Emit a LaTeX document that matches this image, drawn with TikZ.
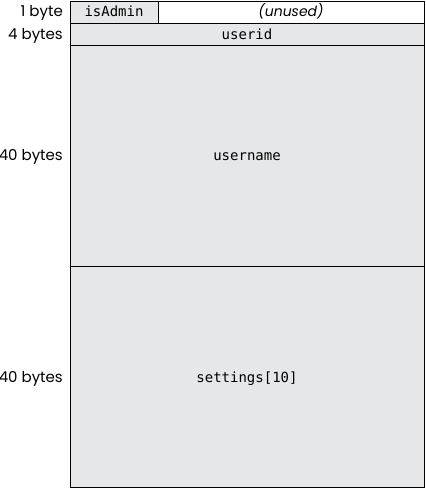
\documentclass[tikz,border=0pt]{standalone}
\usepackage{fontspec}
\setmainfont{Poppins}
\setmonofont{DejaVu Sans Mono}
\definecolor{cellgray}{HTML}{E6E7E8}
\begin{document}
\begin{tikzpicture}[x=1pt,y=1pt,
  cell/.style={draw=black,line width=0.9pt,fill=cellgray},
  lbl/.style={anchor=base east,font=\fontsize{15}{17}\selectfont,inner sep=0pt},
  fld/.style={anchor=base,font=\fontsize{14}{16}\selectfont\ttfamily,inner sep=0pt}]
\useasboundingbox (0,0) rectangle (425,489);
\draw[cell] (70,466) rectangle (158,488);
\draw[draw=black,line width=0.9pt,fill=white] (158,466) rectangle (424,488);
\draw[cell] (70,444) rectangle (424,466);
\draw[cell] (70,223) rectangle (424,444);
\draw[cell] (70,2) rectangle (424,223);
\node[fld] (isadmin) at (114,472) {isAdmin};
\node[anchor=base,font=\fontsize{14}{16}\selectfont\itshape,inner sep=0pt] (unused) at (291,472.5) {(unused)};
\node[fld] (userid) at (247,449.5) {userid};
\node[fld] (username) at (247,328) {username};
\node[fld] (settings) at (247,106) {settings[10]};
\node[lbl] (l1) at (63,472) {1 byte};
\node[lbl] (l2) at (63,449.5) {4 bytes};
\node[lbl] (l3) at (63,328) {40 bytes};
\node[lbl] (l4) at (63,106) {40 bytes};
\end{tikzpicture}
\end{document}
